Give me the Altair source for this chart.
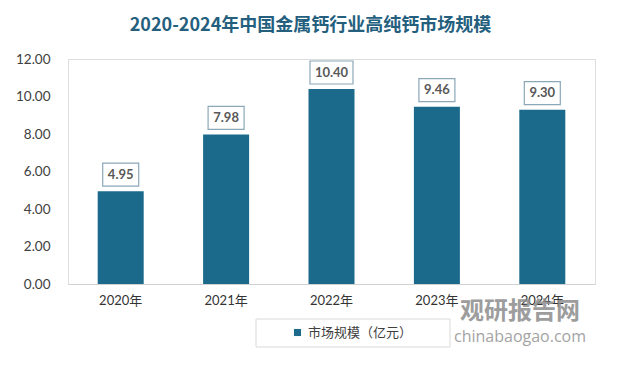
import altair as alt
import pandas as pd

years = ["2020年", "2021年", "2022年", "2023年", "2024年"]
values = [4.95, 7.98, 10.40, 9.46, 9.30]
labels = ["4.95", "7.98", "10.40", "9.46", "9.30"]
series = "市场规模（亿元）"
title = "2020-2024年中国金属钙行业高纯钙市场规模"
y_ticks = [0, 2, 4, 6, 8, 10, 12]

df = pd.DataFrame({"year": years, "value": values, "label": labels, "series": [series] * len(years)})

FONT = "Lato, Noto Sans CJK SC, sans-serif"
x_enc = alt.X("year:N", sort=years, title=None,
              scale=alt.Scale(paddingInner=0.56, paddingOuter=0.28),
              axis=alt.Axis(labelAngle=0, ticks=False, domainColor="#d0d0d0", labelPadding=10,
                            labelFontSize=13, labelColor="#333333", labelFont=FONT))
y_enc = alt.Y("value:Q", title=None,
              scale=alt.Scale(domain=[0, 12]),
              axis=alt.Axis(values=y_ticks, format=".2f", grid=False, domain=False, ticks=False,
                            labelOverlap=False, tickCount=7,
                            labelPadding=18, labelFontSize=13.5, labelColor="#404040", labelFont=FONT))

base = alt.Chart(df)

bars = base.mark_bar(size=46).encode(
    x=x_enc, y=y_enc,
    color=alt.Color("series:N", title=None,
                    scale=alt.Scale(range=["#1b6a8c"]),
                    legend=alt.Legend(orient="none", legendX=188, legendY=260,
                                      symbolType="square", symbolSize=50, symbolOffset=28,
                                      labelFontSize=13, labelColor="#404040", labelFont=FONT,
                                      padding=7)),
)

legend_box = alt.Chart(pd.DataFrame({"k": [0]})).mark_rect(
    fill="white", stroke="#d9d9d9", strokeWidth=1, clip=False
).encode(x=alt.value(188), x2=alt.value(382), y=alt.value(260), y2=alt.value(288))

box_short = base.transform_filter("length(datum.label) <= 4").mark_bar(
    size=36, fill="white", stroke="#8aa8b8", strokeWidth=1.2, yOffset=-5, y2Offset=-28
).encode(x=x_enc, y=y_enc, y2="value:Q")

box_long = base.transform_filter("length(datum.label) > 4").mark_bar(
    size=43, fill="white", stroke="#8aa8b8", strokeWidth=1.2, yOffset=-5, y2Offset=-28
).encode(x=x_enc, y=y_enc, y2="value:Q")

text = base.mark_text(dy=-16.5, baseline="middle", fontSize=13, fontWeight="bold",
                      color="#595959", font=FONT).encode(x=x_enc, y=y_enc, text="label:N")

wm1 = alt.Chart(pd.DataFrame({"t": ["观研报告网"]})).mark_text(
    fontSize=24, fontWeight="bold", color="#8c8c8c", opacity=0.85, font="Noto Sans CJK SC"
).encode(x=alt.value(452), y=alt.value(253), text="t:N")

wm2 = alt.Chart(pd.DataFrame({"t": ["chinabaogao.com"]})).mark_text(
    fontSize=16, color="#9a9a9a", opacity=0.9, font="Open Sans"
).encode(x=alt.value(452), y=alt.value(278), text="t:N")

chart = alt.layer(bars, box_short, box_long, text, legend_box, wm1, wm2).properties(
    width=527, height=225,
    title=alt.TitleParams(title, fontSize=18, fontWeight="bold", color="#24607e",
                          font="Noto Sans CJK SC", anchor="middle", dx=-21, offset=17),
    autosize=alt.AutoSizeParams(type="none"),
    padding={"left": 60, "top": 51, "right": 18, "bottom": 74},
).configure_view(fill="#f3f3f3", stroke=None).configure(background="white").configure_axisY(
    labelOverlap=False
)

chart.save("out.html", embed_options={"renderer": "svg", "actions": False})
